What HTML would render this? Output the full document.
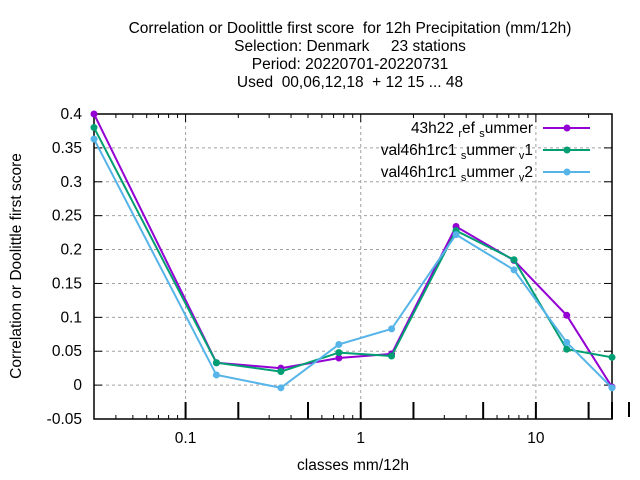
<!DOCTYPE html>
<html><head><meta charset="utf-8"><style>
body{margin:0;background:#fff;}
svg{display:block;font-family:"Liberation Sans",sans-serif;}
text{white-space:pre;}
</style></head><body>
<svg id="chart" width="640" height="480" xmlns="http://www.w3.org/2000/svg">
<g font-size="15.5" text-anchor="middle" fill="#000">
<text x="350" y="33" xml:space="preserve">Correlation or Doolittle first score  for 12h Precipitation (mm/12h)</text>
<text x="350" y="51" xml:space="preserve">Selection: Denmark     23 stations</text>
<text x="350" y="69">Period: 20220701-20220731</text>
<text x="350" y="87" xml:space="preserve">Used  00,06,12,18  + 12 15 ... 48</text>
</g>
<g id="grid"></g>
<g id="axes"></g>
<g id="series"></g>
<g id="legend" font-size="15.5"></g>
<text x="353" y="470" font-size="15.5" text-anchor="middle">classes mm/12h</text>
<text transform="translate(21,266) rotate(-90)" font-size="15.5" text-anchor="middle">Correlation or Doolittle first score</text>
</svg>
<script>
const classes=[0.03,0.15,0.35,0.75,1.5,3.5,7.5,15,27.2];
const refSummer=[0.400,0.033,0.025,0.040,0.046,0.234,0.184,0.103,-0.003];
const summerV1=[0.380,0.033,0.020,0.048,0.043,0.228,0.185,0.053,0.041];
const summerV2=[0.363,0.015,-0.004,0.060,0.083,0.222,0.170,0.063,-0.004];
const yTicks=[-0.05,0,0.05,0.1,0.15,0.2,0.25,0.3,0.35,0.4];
const yTickLabels=["-0.05","0","0.05","0.1","0.15","0.2","0.25","0.3","0.35","0.4"];
const xTicks=[0.1,1,10];
const xTickLabels=["0.1","1","10"];
const colors=["#9400d3","#009e73","#56b4e9"];
const L=94,R=612,T=114,B=419;
const xMin=0.03,xMax=27.2,yMin=-0.05,yMax=0.4;
const lx=Math.log10(xMin),hx=Math.log10(xMax);
function X(v){return L+(Math.log10(v)-lx)/(hx-lx)*(R-L);}
function Y(v){return B-(v-yMin)/(yMax-yMin)*(B-T);}
const NS="http://www.w3.org/2000/svg";
function mk(tag,at,parent){const e=document.createElementNS(NS,tag);for(const k in at)e.setAttribute(k,at[k]);parent.appendChild(e);return e;}
const grid=document.getElementById('grid'),axes=document.getElementById('axes'),ser=document.getElementById('series'),leg=document.getElementById('legend');
yTicks.forEach((v,i)=>{
 const y=Y(v);
 if(v>yMin&&v<yMax){const g=mk('line',{x1:L,x2:R,y1:y,y2:y,stroke:'#a0a0a0','stroke-width':1,'stroke-dasharray':'3,3'},grid);
 
 }
 mk('line',{x1:L,x2:L+8,y1:y,y2:y,stroke:'#000'},axes);
 mk('line',{x1:R,x2:R-8,y1:y,y2:y,stroke:'#000'},axes);
 const t=mk('text',{x:L-12,y:y+5,'font-size':15.5,'text-anchor':'end'},axes);t.textContent=yTickLabels[i];
 
 
});
xTicks.forEach((v,i)=>{
 const x=X(v);
 const g=mk('line',{x1:x,x2:x,y1:T,y2:B,stroke:'#a0a0a0','stroke-width':1,'stroke-dasharray':'3,3'},grid);
 
 
 const t=mk('text',{x:x,y:B+24,'font-size':15.5,'text-anchor':'middle'},axes);t.textContent=xTickLabels[i];
 
 
});
for(let d=-2;d<=1;d++){for(let m=1;m<=9;m++){const v=m*Math.pow(10,d);if(v<xMin||v>xMax)continue;const x=X(v);const h=m==1?8:4;
 mk('line',{x1:x,x2:x,y1:B,y2:B-h,stroke:'#000'},axes);mk('line',{x1:x,x2:x,y1:T,y2:T+h,stroke:'#000'},axes);}}
[0.1,0.2,0.5,1,2,5,10,20,xMax].forEach(v=>{const x=X(v);mk('line',{x1:x,x2:x,y1:B-17,y2:B,stroke:'#000','stroke-width':2},axes);});
mk('line',{x1:629,x2:629,y1:B-17,y2:B-2,stroke:'#000','stroke-width':2},axes);
mk('rect',{x:L,y:T,width:R-L,height:B-T,fill:'none',stroke:'#000','stroke-width':1.5},axes);
[refSummer,summerV1,summerV2].forEach((vals,si)=>{
 const pts=vals.map((v,i)=>X(classes[i]).toFixed(1)+','+Y(v).toFixed(1)).join(' ');
 const pl=mk('polyline',{points:pts,fill:'none',stroke:colors[si],'stroke-width':2},ser);
 
 
 vals.forEach((v,i)=>{const c=mk('circle',{cx:X(classes[i]),cy:Y(v),r:3.5,fill:colors[si]},ser);
 
 });
});
const legParts=[["43h22 ","r","ef ","s","ummer"],["val46h1rc1 ","s","ummer ","v","1"],["val46h1rc1 ","s","ummer ","v","2"]];
legParts.forEach((p,i)=>{
 const y=128+i*22;
 const t=mk('text',{x:533,y:y+5,'text-anchor':'end'},leg);
 
 
 p.forEach((s,j)=>{const ts=mk('tspan',{},t);if(j==1||j==3){ts.setAttribute('font-size','11');ts.setAttribute('dy','4');}else if(j>0){ts.setAttribute('dy','-4');}ts.textContent=s;});
 const ln=mk('line',{x1:543,x2:590,y1:y,y2:y,stroke:colors[i],'stroke-width':2},leg);
 
 
 mk('circle',{cx:567,cy:y,r:3.5,fill:colors[i]},leg);
});
</script>
</body></html>
